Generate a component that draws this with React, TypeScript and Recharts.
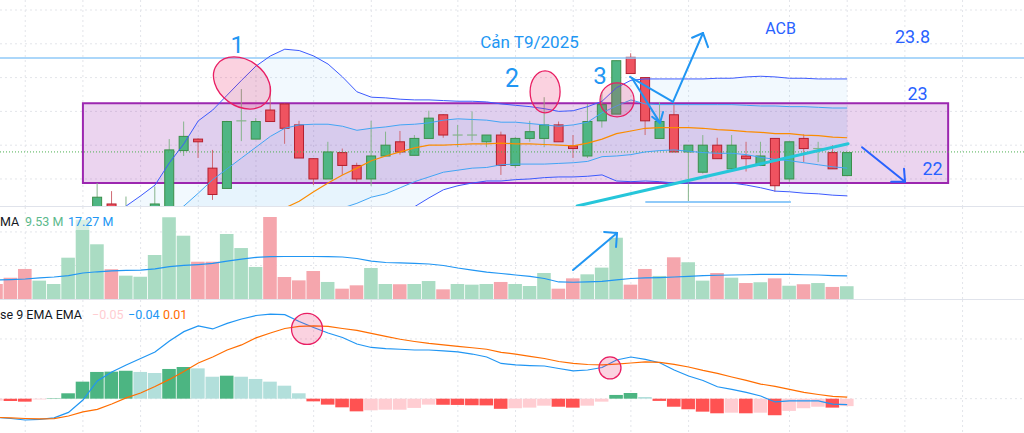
import {
  ComposedChart,
  Bar,
  Line,
  Area,
  XAxis,
  YAxis,
  CartesianGrid,
  ReferenceLine,
  ReferenceArea,
  ReferenceDot,
  Cell,
} from 'recharts';

// candle index i -> one trading session, i = 0 is the half-hidden bar at the left edge
const opens = [
  21.35, 21.3, 21.25, 21.1, 21.2, 21.25, 21.4, 21.5, 21.63, 21.5,
  21.5, 21.5, 21.55, 22.42, 22.59, 22.16, 21.86, 22.86, 22.59, 23.02,
  23.11, 22.8, 22.3, 22.0, 22.39, 22.2, 22.0, 22.34, 22.55, 22.35,
  22.6, 22.95, 22.65, 22.65, 22.55, 22.65, 22.2, 22.6, 22.6, 22.8,
  22.49, 22.34, 22.86, 22.96, 23.8, 23.5, 22.6, 22.95, 22.4, 22.1,
  22.5, 22.15, 22.34, 22.2, 22.6, 22.0, 22.6, 22.45, 22.39, 22.05,
];
const highs = [
  21.4, 21.35, 21.3, 21.25, 21.3, 21.5, 21.58, 21.94, 21.82, 21.74,
  21.58, 21.89, 22.59, 22.85, 22.6, 22.43, 22.86, 23.33, 22.9, 23.37,
  23.12, 22.86, 22.31, 22.55, 22.45, 22.24, 22.86, 22.7, 22.71, 22.65,
  23.01, 22.96, 22.8, 23.0, 22.65, 22.7, 22.62, 22.86, 23.21, 22.85,
  22.65, 23.11, 23.29, 23.75, 23.86, 23.5, 23.14, 23.12, 22.5, 22.65,
  22.61, 22.65, 22.55, 22.55, 22.6, 22.55, 22.66, 22.55, 22.5, 22.39,
];
const lows = [
  21.2, 21.15, 21.05, 21.05, 21.15, 21.2, 21.35, 21.45, 21.5, 21.45,
  21.4, 21.45, 21.5, 22.34, 22.31, 21.69, 21.86, 22.56, 22.59, 22.85,
  22.52, 22.31, 21.91, 22.0, 22.06, 21.96, 21.9, 22.34, 22.36, 22.35,
  22.6, 22.61, 22.47, 22.56, 22.47, 22.06, 22.16, 22.55, 22.47, 22.55,
  22.31, 22.31, 22.76, 22.96, 23.56, 22.65, 22.6, 22.4, 21.65, 22.08,
  22.3, 22.11, 22.11, 22.19, 21.81, 21.96, 22.25, 22.25, 22.15, 22.05,
];
const closes = [
  21.25, 21.2, 21.1, 21.2, 21.25, 21.45, 21.55, 21.73, 21.55, 21.58,
  21.56, 21.63, 22.43, 22.63, 22.55, 21.77, 22.85, 22.86, 22.85, 22.85,
  22.75, 22.31, 22.0, 22.4, 22.2, 22.0, 22.34, 22.5, 22.4, 22.6,
  22.9, 22.65, 22.65, 22.65, 22.65, 22.2, 22.6, 22.7, 22.8, 22.55,
  22.45, 22.85, 23.1, 23.75, 23.56, 22.86, 22.85, 22.4, 22.5, 22.5,
  22.3, 22.5, 22.3, 22.34, 21.9, 22.55, 22.45, 22.45, 22.15, 22.39,
];

// Bollinger bands: outer (up2/lo2), inner (up1/lo1), basis (mid)
const bbUp2 = [
  null, null, null, null, null, null, null, null, 21.39, 21.6,
  21.75, 21.91, 22.24, 22.52, 22.86, 23.02, 23.24, 23.46, 23.67, 23.82,
  23.92, 23.9, 23.82, 23.7, 23.51, 23.29, 23.21, 23.2, 23.18, 23.17,
  23.17, 23.16, 23.15, 23.15, 23.14, 23.11, 23.09, 23.07, 23.04, 23.0,
  23.01, 23.07, 23.15, 23.35, 23.46, 23.48, 23.48, 23.48, 23.48, 23.48,
  23.49, 23.49, 23.51, 23.52, 23.51, 23.49, 23.49, 23.48, 23.48, 23.48,
];
const bbLo2 = [
  null, null, null, null, null, null, null, null, 21.2, 21.18,
  21.15, 21.12, 21.08, 21.05, 21.02, 21.0, 20.98, 20.97, 20.97, 20.98,
  21.0, 21.05, 21.1, 21.15, 21.2, 21.26, 21.32, 21.4, 21.47, 21.59,
  21.72, 21.84, 21.9, 21.94, 21.97, 21.97, 21.99, 22.0, 22.02, 22.03,
  22.03, 22.04, 22.06, 21.97, 21.96, 21.97, 21.96, 21.94, 21.94, 21.94,
  21.94, 21.94, 21.91, 21.87, 21.82, 21.81, 21.79, 21.78, 21.76, 21.75,
];
const bbUp1 = [
  null, null, null, null, null, null, null, null, null, null,
  null, null, 21.47, 21.6, 21.79, 21.99, 22.15, 22.31, 22.47, 22.63,
  22.75, 22.8, 22.81, 22.81, 22.78, 22.72, 22.75, 22.77, 22.8, 22.81,
  22.83, 22.87, 22.89, 22.88, 22.87, 22.84, 22.84, 22.82, 22.8, 22.78,
  22.8, 22.84, 22.98, 23.08, 23.17, 23.11, 23.1, 23.1, 23.1, 23.1,
  23.1, 23.1, 23.09, 23.08, 23.08, 23.07, 23.07, 23.06, 23.05, 23.05,
];
const bbLo1 = [
  null, null, null, null, null, null, null, null, null, null,
  null, null, 21.3, 21.28, 21.27, 21.26, 21.27, 21.3, 21.33, 21.37,
  21.42, 21.46, 21.5, 21.54, 21.57, 21.64, 21.73, 21.78, 21.87, 21.96,
  22.03, 22.1, 22.13, 22.16, 22.17, 22.21, 22.22, 22.22, 22.22, 22.23,
  22.24, 22.26, 22.33, 22.34, 22.36, 22.4, 22.42, 22.43, 22.41, 22.39,
  22.38, 22.38, 22.36, 22.32, 22.29, 22.27, 22.24, 22.21, 22.18, 22.16,
];
const bbMid = [
  null, null, null, null, null, null, null, null, null, null,
  null, null, null, null, null, null, null, null, null, null,
  21.57, 21.67, 21.81, 21.94, 22.06, 22.16, 22.27, 22.34, 22.4, 22.46,
  22.5, 22.5, 22.51, 22.52, 22.52, 22.53, 22.52, 22.52, 22.51, 22.5,
  22.49, 22.53, 22.59, 22.67, 22.71, 22.75, 22.76, 22.76, 22.76, 22.75,
  22.73, 22.72, 22.7, 22.69, 22.67, 22.67, 22.65, 22.64, 22.62, 22.61,
];

// volume in millions and its moving average
const volumes = [
  11.2, 15.9, 22.4, 13.7, 11.2, 30.8, 59, 40.8, 22.2, 17.4,
  16.6, 32.8, 61, 47.2, 27.8, 27.8, 48.5, 38, 23.9, 61.2,
  16.4, 13.9, 20.9, 12.7, 7.7, 10.2, 23.1, 11.2, 11, 11.2,
  13.4, 7.2, 11.2, 10.7, 11.2, 12.7, 11.2, 9.7, 19.4, 7.7,
  15.4, 18.4, 23.4, 45.7, 10.7, 22.4, 17.2, 31.1, 27.4, 13.7,
  19.4, 15.9, 11.9, 12.5, 15.4, 9.9, 11, 11.9, 9, 9.53,
];
const volumeMa = [
  14.2, 14.5, 14.9, 15.7, 16.4, 17.5, 19.4, 20.3, 20.9, 21.4,
  21.6, 22.4, 24.2, 25.0, 25.7, 26.6, 28.3, 29.8, 31.0, 31.6,
  31.7, 31.7, 31.7, 31.6, 31.3, 30.2, 28.3, 27.2, 26.9, 26.5,
  26.1, 25.0, 23.1, 21.6, 20.1, 19.0, 17.9, 16.8, 15.3, 12.7,
  12.5, 12.7, 13.1, 14.2, 15.3, 15.7, 16.0, 16.4, 16.9, 17.4,
  17.7, 17.9, 18.1, 18.4, 18.4, 18.3, 18.1, 17.9, 17.5, 17.27,
];

// MACD
const macdLine = [
  -0.125, -0.133, -0.143, -0.139, -0.129, -0.092, -0.009, 0.119, 0.179, 0.226,
  0.269, 0.313, 0.387, 0.449, 0.487, 0.467, 0.504, 0.534, 0.557, 0.567,
  0.563, 0.517, 0.477, 0.44, 0.41, 0.366, 0.343, 0.335, 0.331, 0.326,
  0.326, 0.32, 0.313, 0.299, 0.279, 0.236, 0.226, 0.222, 0.219, 0.202,
  0.186, 0.192, 0.209, 0.259, 0.279, 0.263, 0.241, 0.192, 0.152, 0.122,
  0.08, 0.062, 0.042, 0.018, -0.022, -0.015, -0.015, -0.015, -0.036, -0.04,
];
const signalLine = [
  -0.125, -0.129, -0.133, -0.136, -0.134, -0.116, -0.089, -0.072, -0.036, 0.005,
  0.038, 0.082, 0.129, 0.182, 0.239, 0.279, 0.326, 0.36, 0.407, 0.44,
  0.47, 0.484, 0.487, 0.484, 0.47, 0.457, 0.437, 0.417, 0.398, 0.383,
  0.37, 0.36, 0.35, 0.341, 0.331, 0.31, 0.299, 0.283, 0.269, 0.249,
  0.236, 0.229, 0.226, 0.232, 0.239, 0.246, 0.243, 0.23, 0.212, 0.189,
  0.169, 0.145, 0.122, 0.098, 0.082, 0.062, 0.042, 0.028, 0.015, 0.01,
];
const histogram = [
  -0.013, -0.015, -0.02, -0.005, 0.003, 0.036, 0.114, 0.179, 0.181, 0.187,
  0.179, 0.172, 0.199, 0.212, 0.203, 0.147, 0.154, 0.147, 0.132, 0.114,
  0.087, 0.036, -0.018, -0.04, -0.058, -0.085, -0.078, -0.074, -0.074, -0.062,
  -0.04, -0.041, -0.042, -0.044, -0.045, -0.068, -0.064, -0.06, -0.047, -0.054,
  -0.06, -0.047, -0.02, 0.025, 0.038, 0.011, -0.015, -0.054, -0.071, -0.087,
  -0.098, -0.094, -0.098, -0.094, -0.111, -0.082, -0.064, -0.054, -0.06, -0.05,
];

// grid positions (session index) and price levels
const gridSessions = [2, 6, 10, 14, 18, 22, 26, 32, 36, 40, 44, 48, 55, 59, 63, 67];
const priceLevels = [22, 22.5, 23, 23.5, 24, 24.5];
const volumeLevels = [25, 50];
const macdLevels = [0, 0.4];

// hand drawn notes, in (session, value) units
const priceNotes = [
  { i: 16.7, v: 23.98, text: '1', size: 24, color: '#2196f3' },
  { i: 35.76, v: 23.49, text: '2', size: 25, color: '#2196f3' },
  { i: 41.86, v: 23.52, text: '3', size: 24, color: '#2196f3' },
  { i: 36.97, v: 24.03, text: 'Cản T9/2025', size: 17, color: '#2196f3' },
  { i: 54.38, v: 24.22, text: 'ACB', size: 16, color: '#2962ff' },
  { i: 63.53, v: 24.11, text: '23.8', size: 18, color: '#2962ff' },
  { i: 63.88, v: 23.26, text: '23', size: 18, color: '#2962ff' },
  { i: 64.92, v: 22.15, text: '22', size: 18, color: '#2962ff' },
];
const priceMarks = [
  { i: 17.03, v: 23.42, rx: 31, ry: 23, rot: 36 },
  { i: 38.05, v: 23.29, rx: 15, ry: 21, rot: 0 },
  { i: 43.04, v: 23.17, rx: 17, ry: 17, rot: 0 },
];
const priceStrokes = [
  { pts: [[43.94, 23.51], [46.92, 23.14], [49.0, 24.16]], color: '#2196f3', w: 2 },
  { pts: [[48.24, 24.09], [49.0, 24.16], [49.35, 23.95]], color: '#2196f3', w: 2 },
  { pts: [[44.08, 23.49], [46.02, 22.83]], color: '#2196f3', w: 2 },
  { pts: [[45.47, 22.92], [46.02, 22.83], [46.23, 22.99]], color: '#2196f3', w: 2 },
  { pts: [[60.03, 22.47], [63.01, 21.96]], color: '#2962ff', w: 2 },
  { pts: [[62.05, 21.96], [63.01, 21.96], [62.94, 22.15]], color: '#2962ff', w: 2 },
  { pts: [[40.27, 21.6], [59.06, 22.52]], color: '#26c6da', w: 3 },
  { pts: [[45.05, 21.66], [55.04, 21.66]], color: '#90caf9', w: 2 },
];
const volumeStrokes = [
  { pts: [[39.99, 21.6], [43.04, 49.2]], color: '#2196f3', w: 2 },
  { pts: [[42.14, 50.0], [43.04, 49.2], [42.97, 38.8]], color: '#2196f3', w: 2 },
];
const macdMarks = [
  { i: 21.54, v: 0.467, rx: 15.5, ry: 15.5, rot: 0 },
  { i: 42.55, v: 0.206, rx: 11, ry: 11, rot: 0 },
];

const X_DOMAIN: [number, number] = [0.25, 71.26];
const PRICE_DOMAIN: [number, number] = [21.6, 24.648];
const VOL_DOMAIN: [number, number] = [0, 68.6];
const MACD_DOMAIN: [number, number] = [-0.23, 0.661];

const UP = '#4fb684';
const UP_EDGE = '#3b8f4a';
const DOWN = '#ef5360';
const DOWN_EDGE = '#b3202f';

const rows = opens.map((open, i) => ({
  i,
  open,
  high: highs[i],
  low: lows[i],
  close: closes[i],
  up2: bbUp2[i],
  lo2: bbLo2[i],
  up1: bbUp1[i],
  lo1: bbLo1[i],
  mid: bbMid[i],
  vol: volumes[i],
  volMa: volumeMa[i],
  macd: macdLine[i],
  signal: signalLine[i],
  hist: histogram[i],
}));

const histColor = (i: number) => {
  const h = histogram[i];
  const prev = i > 0 ? histogram[i - 1] : h;
  if (h >= 0) return h >= prev ? '#4cb582' : '#b2dfdb';
  return h < prev ? '#ff5252' : '#ffcdd2';
};

const Candle = (props: any) => {
  const { x, y, width, height, payload, background } = props;
  const { open, close, high, low } = payload;
  const [lo, hi] = PRICE_DOMAIN;
  const toY =
    background && background.height
      ? (p: number) => background.y + ((hi - p) / (hi - lo)) * background.height
      : (p: number) => y + ((high - p) / (high - low || 1)) * height;
  const up = close >= open;
  const cx = x + width / 2;
  const top = toY(Math.max(open, close));
  const bottom = toY(Math.min(open, close));
  const doji = open === close;
  return (
    <g>
      <line
        x1={cx}
        x2={cx}
        y1={toY(high)}
        y2={toY(low)}
        stroke={up ? '#86b48c' : '#cf6a74'}
        strokeWidth={1}
      />
      {doji ? (
        <line x1={x} x2={x + width} y1={top} y2={top} stroke="#86b48c" strokeWidth={1.2} />
      ) : (
        <rect
          x={x + 0.5}
          y={top}
          width={width - 1}
          height={Math.max(bottom - top, 1.5)}
          fill={up ? UP : DOWN}
          stroke={up ? UP_EDGE : DOWN_EDGE}
          strokeWidth={1}
        />
      )}
    </g>
  );
};

const noteShape = (n: { text: string; size: number; color: string }) => (p: any) => (
  <text
    x={p.cx}
    y={p.cy}
    textAnchor="middle"
    dominantBaseline="central"
    fontSize={n.size}
    fill={n.color}
    fontFamily="Roboto, 'Noto Sans', sans-serif"
  >
    {n.text}
  </text>
);

const markShape = (m: { rx: number; ry: number; rot: number }) => (p: any) => (
  <ellipse
    cx={p.cx}
    cy={p.cy}
    rx={m.rx}
    ry={m.ry}
    transform={`rotate(${m.rot} ${p.cx} ${p.cy})`}
    fill="rgba(233, 30, 99, 0.2)"
    stroke="#e91e63"
    strokeWidth={1.3}
  />
);

const strokeLines = (list: { pts: number[][]; color: string; w: number }[], key: string) =>
  list.flatMap((s, k) =>
    s.pts.slice(1).map((pt, j) => (
      <ReferenceLine
        key={`${key}-${k}-${j}`}
        segment={[
          { x: s.pts[j][0], y: s.pts[j][1] },
          { x: pt[0], y: pt[1] },
        ]}
        stroke={s.color}
        strokeWidth={s.w}
        strokeLinecap="round"
        ifOverflow="visible"
      />
    ))
  );

const grid = (levels: number[]) => (
  <CartesianGrid
    stroke="#e3e5ea"
    strokeDasharray="2 3"
    horizontalValues={levels}
    verticalValues={gridSessions}
  />
);

const legendFont: React.CSSProperties = {
  position: 'absolute',
  fontFamily: 'Roboto, sans-serif',
  fontSize: 12.5,
  whiteSpace: 'nowrap',
  lineHeight: '16px',
};

const App = () => {
  return (
    <div
      style={{
        position: 'absolute',
        left: 0,
        top: 0,
        width: 1024,
        height: 433,
        overflow: 'hidden',
        background: '#ffffff',
      }}
    >
      <div style={{ position: 'absolute', left: 0, top: 0 }}>
        <ComposedChart width={1024} height={206} data={rows} margin={{ top: 0, right: 0, bottom: 0, left: 0 }}>
          {grid(priceLevels)}
          <XAxis dataKey="i" type="number" domain={X_DOMAIN} allowDataOverflow hide />
          <YAxis type="number" domain={PRICE_DOMAIN} allowDataOverflow hide />
          <Area
            dataKey={(d: any) => (d.up2 == null ? null : [d.lo2, d.up2])}
            stroke="none"
            fill="#2196f3"
            fillOpacity={0.06}
            isAnimationActive={false}
            activeDot={false}
          />
          <Area
            dataKey={(d: any) => (d.up1 == null ? null : [d.lo1, d.up1])}
            stroke="none"
            fill="#2196f3"
            fillOpacity={0.05}
            isAnimationActive={false}
            activeDot={false}
          />
          <ReferenceArea
            x1={6}
            x2={66}
            y1={21.94}
            y2={23.12}
            fill="#9c27b0"
            fillOpacity={0.2}
            stroke="#9c27b0"
            strokeWidth={2}
            ifOverflow="visible"
          />
          <ReferenceLine y={23.79} stroke="#90caf9" strokeWidth={1.5} />
          <ReferenceLine y={22.4} stroke="#4caf50" strokeDasharray="1 2" strokeWidth={1} />
          <Bar
            dataKey={(d: any) => [d.low, d.high]}
            barSize={10}
            shape={Candle}
            isAnimationActive={false}
          />
          <Line dataKey="up2" stroke="#3d5afe" strokeWidth={1} dot={false} activeDot={false} isAnimationActive={false} />
          <Line dataKey="lo2" stroke="#3d5afe" strokeWidth={1} dot={false} activeDot={false} isAnimationActive={false} />
          <Line dataKey="up1" stroke="#42a5f5" strokeWidth={1} dot={false} activeDot={false} isAnimationActive={false} />
          <Line dataKey="lo1" stroke="#42a5f5" strokeWidth={1} dot={false} activeDot={false} isAnimationActive={false} />
          <Line dataKey="mid" stroke="#fb8c00" strokeWidth={1.2} dot={false} activeDot={false} isAnimationActive={false} />
          {strokeLines(priceStrokes, 'p')}
          {priceMarks.map((m, k) => (
            <ReferenceDot key={`m${k}`} x={m.i} y={m.v} r={1} shape={markShape(m)} ifOverflow="visible" />
          ))}
          {priceNotes.map((n, k) => (
            <ReferenceDot key={`n${k}`} x={n.i} y={n.v} r={1} shape={noteShape(n)} ifOverflow="visible" />
          ))}
        </ComposedChart>
      </div>

      <div style={{ position: 'absolute', left: 0, top: 206, width: 1024, height: 1, background: '#e0e3eb' }} />

      <div style={{ position: 'absolute', left: 0, top: 207 }}>
        <ComposedChart width={1024} height={92} data={rows} margin={{ top: 0, right: 0, bottom: 0, left: 0 }}>
          {grid(volumeLevels)}
          <XAxis dataKey="i" type="number" domain={X_DOMAIN} allowDataOverflow hide />
          <YAxis type="number" domain={VOL_DOMAIN} allowDataOverflow hide />
          <Bar dataKey="vol" barSize={13.6} isAnimationActive={false}>
            {rows.map((r) => (
              <Cell key={r.i} fill={r.close >= r.open ? '#aadcc3' : '#f5a6ad'} />
            ))}
          </Bar>
          <Line dataKey="volMa" stroke="#2196f3" strokeWidth={1.2} dot={false} activeDot={false} isAnimationActive={false} />
          {strokeLines(volumeStrokes, 'v')}
        </ComposedChart>
      </div>

      <div style={{ ...legendFont, left: 0, top: 214, width: 112, height: 16, background: 'rgba(255,255,255,0.55)' }}>
        <span style={{ position: 'absolute', left: 0, color: '#131722' }}>MA</span>
        <span style={{ position: 'absolute', left: 25, color: '#5cb98c' }}>9.53 M</span>
        <span style={{ position: 'absolute', left: 68, color: '#2196f3' }}>17.27 M</span>
      </div>

      <div style={{ position: 'absolute', left: 0, top: 299, width: 1024, height: 1, background: '#e0e3eb' }} />

      <div style={{ position: 'absolute', left: 0, top: 300 }}>
        <ComposedChart width={1024} height={133} data={rows} margin={{ top: 0, right: 0, bottom: 0, left: 0 }}>
          {grid(macdLevels)}
          <XAxis dataKey="i" type="number" domain={X_DOMAIN} allowDataOverflow hide />
          <YAxis type="number" domain={MACD_DOMAIN} allowDataOverflow hide />
          <Bar dataKey="hist" barSize={13.6} isAnimationActive={false}>
            {rows.map((r) => (
              <Cell key={r.i} fill={histColor(r.i)} />
            ))}
          </Bar>
          <Line dataKey="macd" stroke="#2196f3" strokeWidth={1.2} dot={false} activeDot={false} isAnimationActive={false} />
          <Line dataKey="signal" stroke="#ff6d00" strokeWidth={1.2} dot={false} activeDot={false} isAnimationActive={false} />
          {macdMarks.map((m, k) => (
            <ReferenceDot key={`c${k}`} x={m.i} y={m.v} r={1} shape={markShape(m)} ifOverflow="visible" />
          ))}
        </ComposedChart>
      </div>

      <div style={{ ...legendFont, left: 0, top: 307, width: 200, height: 16 }}>
        <span style={{ position: 'absolute', left: 0, color: '#131722' }}>se 9 EMA EMA</span>
        <span style={{ position: 'absolute', left: 92, color: '#ffcdd2' }}>−0.05</span>
        <span style={{ position: 'absolute', left: 128, color: '#2196f3' }}>−0.04</span>
        <span style={{ position: 'absolute', left: 163, color: '#ff6d00' }}>0.01</span>
      </div>
    </div>
  );
};

export default App;
